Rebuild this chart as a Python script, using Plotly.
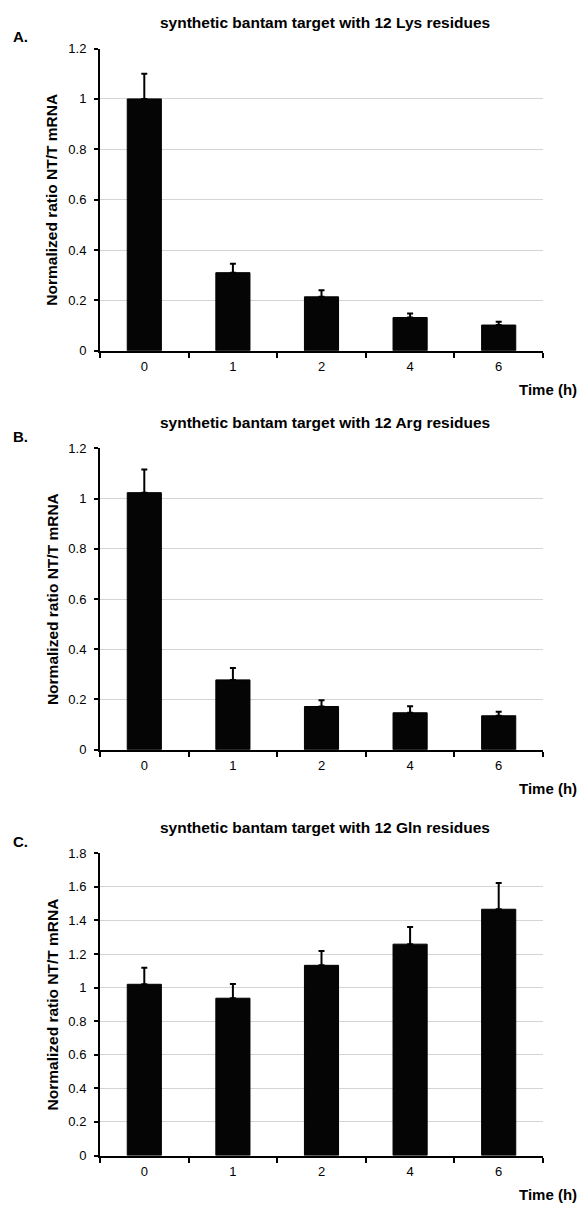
import plotly.graph_objects as go

# ---- data ----
times = ["0", "1", "2", "4", "6"]

lys_values = [1.00, 0.31, 0.214, 0.132, 0.102]
lys_errors = [0.10, 0.035, 0.026, 0.016, 0.013]

arg_values = [1.024, 0.278, 0.172, 0.147, 0.135]
arg_errors = [0.092, 0.047, 0.025, 0.026, 0.016]

gln_values = [1.02, 0.937, 1.133, 1.259, 1.467]
gln_errors = [0.098, 0.085, 0.085, 0.102, 0.157]

titles = [
    "synthetic bantam target with 12 Lys residues",
    "synthetic bantam target with 12 Arg residues",
    "synthetic bantam target with 12 Gln residues",
]
panel_labels = ["A.", "B.", "C."]
y_ranges = [[0, 1.2], [0, 1.2], [0, 1.8]]
y_title = "Normalized ratio NT/T mRNA"
x_title = "Time (h)"

# page is 587x1211; the browser body has an 8px margin, so the figure is smaller
PAGE_W, PAGE_H = 587, 1211
OFF = 8
W, H = PAGE_W - 2 * OFF, PAGE_H - 2 * OFF
FONT = "Liberation Sans, Arial, sans-serif"

# page-pixel geometry of each panel: (top, bottom) of plot area
panels_px = [(42, 348), (447, 752), (857, 1163)]
x_left, x_right = 100, 543


def py(p):
    return 1 - (p - OFF) / H


def px(p):
    return (p - OFF) / W


series = [(lys_values, lys_errors), (arg_values, arg_errors), (gln_values, gln_errors)]

fig = go.Figure()
layout = dict(
    width=W, height=H,
    margin=dict(l=0, r=0, t=0, b=0),
    paper_bgcolor="white", plot_bgcolor="white",
    showlegend=False,
    bargap=0.615,
    font=dict(family=FONT, color="black", size=13),
    annotations=[],
)

for i, ((vals, errs), (top, bot)) in enumerate(zip(series, panels_px)):
    suffix = "" if i == 0 else str(i + 1)
    fig.add_trace(go.Bar(
        x=times, y=vals,
        xaxis="x" + suffix, yaxis="y" + suffix,
        marker=dict(color="#050505", line=dict(color="#000000", width=1)),
        error_y=dict(type="data", symmetric=False, array=errs,
                     arrayminus=[0] * len(errs),
                     color="black", thickness=2, width=3),
    ))
    layout["xaxis" + suffix] = dict(
        domain=[px(x_left), px(x_right)],
        anchor="y" + suffix,
        type="category",
        tickson="boundaries",
        ticks="outside", ticklen=5, tickwidth=2, tickcolor="black",
        ticklabelstandoff=3,
        showline=True, linecolor="black", linewidth=2,
        showgrid=False, zeroline=False,
        tickfont=dict(family=FONT, size=13, color="black"),
        fixedrange=True,
    )
    layout["yaxis" + suffix] = dict(
        domain=[py(bot), py(top)],
        anchor="x" + suffix,
        range=y_ranges[i],
        dtick=0.2,
        ticks="outside", ticklen=4, tickwidth=2, tickcolor="black",
        ticklabelstandoff=5,
        showline=True, linecolor="black", linewidth=2,
        showgrid=True, gridcolor="#d4d4d4", gridwidth=1.3,
        zeroline=False,
        tickfont=dict(family=FONT, size=13, color="black"),
        fixedrange=True,
    )
    mid = (top + bot) / 2
    layout["annotations"] += [
        dict(text="<b>%s</b>" % titles[i], xref="paper", yref="paper",
             x=px((x_left + x_right) / 2 + 3), y=py(top - 26), xanchor="center", yanchor="middle",
             showarrow=False, font=dict(family=FONT, size=15.5, color="black")),
        dict(text="<b>%s</b>" % panel_labels[i], xref="paper", yref="paper",
             x=px(11), y=py(top - 12), xanchor="left", yanchor="middle",
             showarrow=False, font=dict(family=FONT, size=15, color="black")),
        dict(text="<b>%s</b>" % y_title, xref="paper", yref="paper",
             x=px(52), y=py(mid), xanchor="center", yanchor="middle", textangle=-90,
             showarrow=False, font=dict(family=FONT, size=15.5, color="black")),
        dict(text="<b>%s</b>" % x_title, xref="paper", yref="paper",
             x=px(579), y=py(bot + 39), xanchor="right", yanchor="middle",
             showarrow=False, font=dict(family=FONT, size=15, color="black")),
    ]

fig.update_layout(**layout)
fig.write_html("out.html")
